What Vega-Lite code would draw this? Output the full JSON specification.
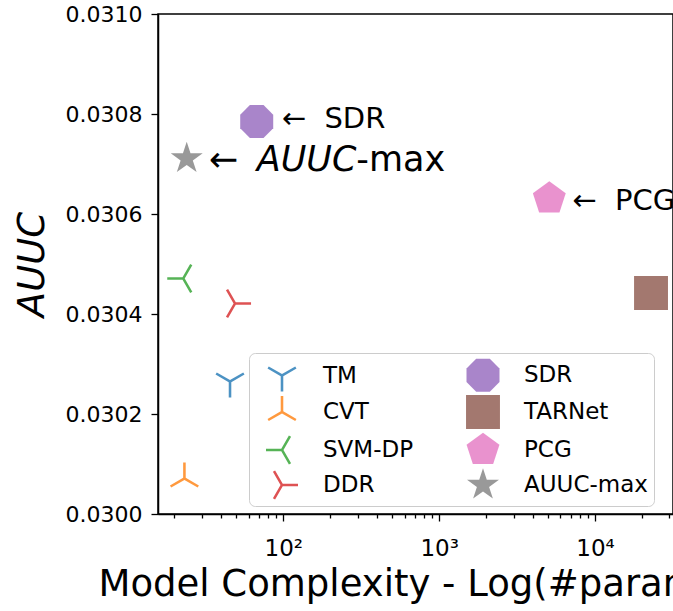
{
  "$schema": "https://vega.github.io/schema/vega-lite/v6.json",
  "width": 515,
  "height": 500,
  "autosize": "none",
  "padding": {"left": 158, "top": 14, "right": 0, "bottom": 97},
  "background": "white",
  "config": {
    "font": "DejaVu Sans",
    "view": {"stroke": "black", "strokeWidth": 1.5}
  },
  "encoding": {
    "x": {
      "field": "params",
      "type": "quantitative",
      "scale": {"type": "log", "domain": [15.7, 31660]},
      "axis": {
        "title": "Model Complexity - Log(#parameters)",
        "titleFontSize": 37,
        "titleFontWeight": "normal",
        "titleColor": "black",
        "titleX": -60,
        "titleY": 81,
        "titleAlign": "left",
        "titleAnchor": "start",
        "titleBaseline": "alphabetic",
        "values": [20, 30, 40, 50, 60, 70, 80, 90, 100, 200, 300, 400, 500, 600, 700, 800, 900, 1000, 2000, 3000, 4000, 5000, 6000, 7000, 8000, 9000, 10000, 20000, 30000],
        "labelExpr": "datum.value == 100 ? '10²' : datum.value == 1000 ? '10³' : datum.value == 10000 ? '10⁴' : ''",
        "labelFontSize": 23,
        "labelColor": "black",
        "labelOverlap": false,
        "labelFlush": false,
        "labelBaseline": "alphabetic",
        "labelPadding": 34,
        "tickColor": "black",
        "tickWidth": 1.3,
        "tickSize": {"condition": {"test": "datum.value == 100 || datum.value == 1000 || datum.value == 10000", "value": 7}, "value": 4},
        "domainColor": "black",
        "domainWidth": 1.5,
        "grid": false
      }
    },
    "y": {
      "field": "auuc",
      "type": "quantitative",
      "scale": {"domain": [0.03, 0.031], "nice": false, "zero": false},
      "axis": {
        "title": "AUUC",
        "titleFontSize": 37,
        "titleFontStyle": "italic",
        "titleFontWeight": "normal",
        "titleColor": "black",
        "titleAngle": 270,
        "titleX": -115,
        "titleY": 250,
        "titleAlign": "center",
        "titleBaseline": "alphabetic",
        "values": [0.03, 0.0302, 0.0304, 0.0306, 0.0308, 0.031],
        "format": ".4f",
        "labelFontSize": 22,
        "labelColor": "black",
        "labelPadding": 9,
        "tickColor": "black",
        "tickWidth": 1.3,
        "tickSize": 7,
        "domainColor": "black",
        "domainWidth": 1.5,
        "grid": false
      }
    }
  },
  "layer": [
    {
      "data": {
        "values": [
          {"method": "TM", "params": 45.5, "auuc": 0.030265},
          {"method": "CVT", "params": 23.2, "auuc": 0.030071},
          {"method": "SVM-DP", "params": 22.8, "auuc": 0.030471},
          {"method": "DDR", "params": 49.0, "auuc": 0.030421},
          {"method": "SDR", "params": 67.5, "auuc": 0.030785},
          {"method": "TARNet", "params": 22880, "auuc": 0.030442},
          {"method": "PCG", "params": 5091, "auuc": 0.030631},
          {"method": "AUUC-max", "params": 24.0, "auuc": 0.030711}
        ]
      },
      "mark": {"type": "point", "filled": true, "opacity": 0.8, "strokeWidth": 0, "size": 1024},
      "encoding": {
        "color": {
          "field": "method",
          "type": "nominal",
          "scale": {
            "domain": ["TM", "CVT", "SVM-DP", "DDR", "SDR", "TARNet", "PCG", "AUUC-max"],
            "range": ["#1f77b4", "#ff7f0e", "#2ca02c", "#d62728", "#9467bd", "#8c564b", "#e377c2", "#7f7f7f"]
          },
          "legend": {
            "orient": "none", "legendX": 91, "legendY": 339, "columns": 2, "title": null,
            "labelFontSize": 23, "labelColor": "black", "labelFont": "DejaVu Sans",
            "symbolSize": 1024, "symbolOpacity": 0.8, "symbolStrokeWidth": 0,
            "padding": 6, "rowPadding": 3, "columnPadding": 42, "labelOffset": 25, "symbolOffset": 11,
            "strokeColor": "#cccccc", "cornerRadius": 6, "fillColor": "white"
          }
        },
        "shape": {
          "field": "method",
          "type": "nominal",
          "scale": {
            "domain": ["TM", "CVT", "SVM-DP", "DDR", "SDR", "TARNet", "PCG", "AUUC-max"],
            "range": [
              "M0.08,1L-0.08,1L-0.08,0.046L-0.906,-0.431L-0.826,-0.569L0,-0.092L0.826,-0.569L0.906,-0.431L0.08,0.046Z",
              "M-0.08,-1L0.08,-1L0.08,-0.046L0.906,0.431L0.826,0.569L0,0.092L-0.826,0.569L-0.906,0.431L-0.08,-0.046Z",
              "M-1,0.08L-1,-0.08L-0.046,-0.08L0.431,-0.906L0.569,-0.826L0.092,0L0.569,0.826L0.431,0.906L-0.046,0.08Z",
              "M1,-0.08L1,0.08L0.046,0.08L-0.431,0.906L-0.569,0.826L-0.092,0L-0.569,-0.826L-0.431,-0.906L0.046,-0.08Z",
              "M1.031,0.427L0.427,1.031L-0.427,1.031L-1.031,0.427L-1.031,-0.427L-0.427,-1.031L0.427,-1.031L1.031,-0.427Z",
              "M-1.06,-1.06L1.06,-1.06L1.06,1.06L-1.06,1.06Z",
              "M0,-1.08L1.027,-0.334L0.635,0.874L-0.635,0.874L-1.027,-0.334Z",
              "M0,-1.05L0.236,-0.324L0.999,-0.324L0.381,0.124L0.617,0.849L0,0.401L-0.617,0.849L-0.381,0.124L-0.999,-0.324L-0.236,-0.324Z"
            ]
          },
          "legend": {
            "orient": "none", "legendX": 91, "legendY": 339, "columns": 2, "title": null,
            "labelFontSize": 23, "labelColor": "black", "labelFont": "DejaVu Sans",
            "symbolSize": 1024, "symbolOpacity": 0.8, "symbolStrokeWidth": 0,
            "padding": 6, "rowPadding": 3, "columnPadding": 42, "labelOffset": 25, "symbolOffset": 11,
            "strokeColor": "#cccccc", "cornerRadius": 6, "fillColor": "white"
          }
        }
      }
    },
    {
      "data": {"values": [{"params": 67.5, "auuc": 0.030785, "label": "←\u00a0\u00a0SDR"}]},
      "mark": {"type": "text", "align": "left", "baseline": "alphabetic", "dx": 25, "dy": 6, "fontSize": 29, "color": "black"},
      "encoding": {"text": {"field": "label"}}
    },
    {
      "data": {"values": [{"params": 5091, "auuc": 0.030631, "label": "←\u00a0\u00a0PCG"}]},
      "mark": {"type": "text", "align": "left", "baseline": "alphabetic", "dx": 23, "dy": 11, "fontSize": 29, "color": "black"},
      "encoding": {"text": {"field": "label"}}
    },
    {
      "data": {"values": [{"params": 24.0, "auuc": 0.030711, "label": "←"}]},
      "mark": {"type": "text", "align": "left", "baseline": "alphabetic", "dx": 22, "dy": 12, "fontSize": 35, "color": "black"},
      "encoding": {"text": {"field": "label"}}
    },
    {
      "data": {"values": [{"params": 24.0, "auuc": 0.030711, "label": "AUUC"}]},
      "mark": {"type": "text", "align": "left", "baseline": "alphabetic", "dx": 70, "dy": 12, "fontSize": 35, "fontStyle": "italic", "color": "black"},
      "encoding": {"text": {"field": "label"}}
    },
    {
      "data": {"values": [{"params": 24.0, "auuc": 0.030711, "label": "-max"}]},
      "mark": {"type": "text", "align": "left", "baseline": "alphabetic", "dx": 169.6, "dy": 12, "fontSize": 35, "color": "black"},
      "encoding": {"text": {"field": "label"}}
    }
  ]
}
